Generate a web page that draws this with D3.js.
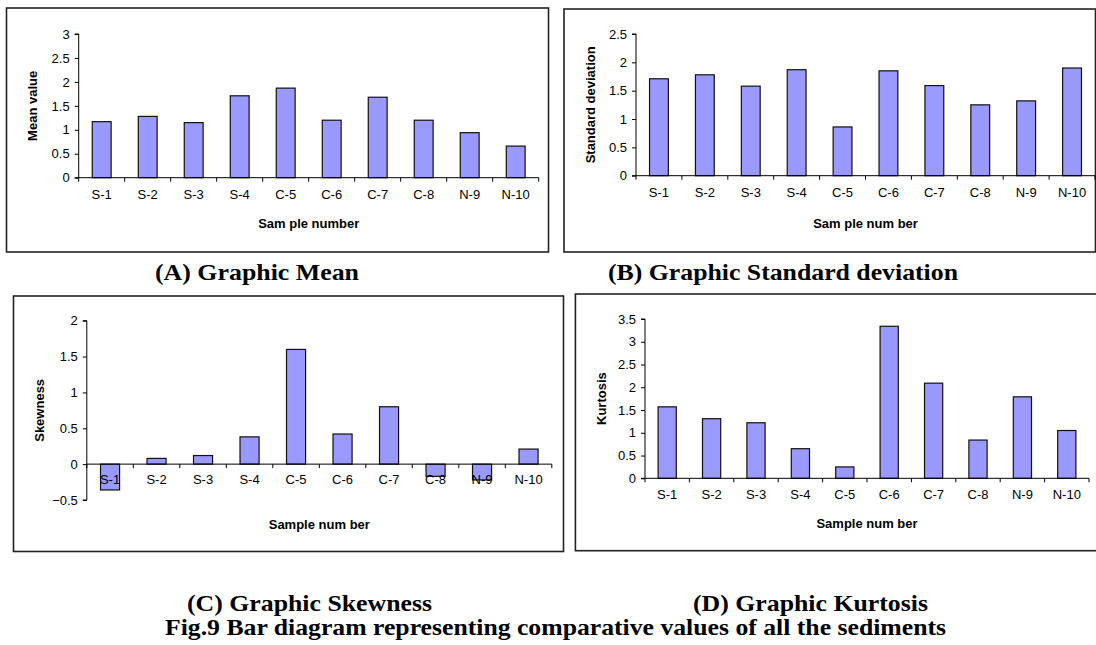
<!DOCTYPE html>
<html><head><meta charset="utf-8">
<script src="https://cdn.jsdelivr.net/npm/d3@7"></script>
<style>
html,body{margin:0;padding:0;background:#fff;}
svg{display:block;}
</style></head>
<body>
<svg id="chart" width="1096" height="645"></svg>
<script>
const categories = ["S-1","S-2","S-3","S-4","C-5","C-6","C-7","C-8","N-9","N-10"];
const meanValues = [1.17, 1.28, 1.15, 1.71, 1.87, 1.2, 1.68, 1.2, 0.94, 0.66];
const sdValues = [1.71, 1.78, 1.58, 1.87, 0.86, 1.85, 1.59, 1.25, 1.32, 1.9];
const skewValues = [-0.36, 0.08, 0.12, 0.38, 1.6, 0.42, 0.8, -0.17, -0.22, 0.21];
const kurtValues = [1.57, 1.31, 1.22, 0.65, 0.25, 3.34, 2.09, 0.84, 1.79, 1.05];
const meanTicks = [0, 0.5, 1, 1.5, 2, 2.5, 3];
const sdTicks = [0, 0.5, 1, 1.5, 2, 2.5];
const skewTicks = [-0.5, 0, 0.5, 1, 1.5, 2];
const kurtTicks = [0, 0.5, 1, 1.5, 2, 2.5, 3, 3.5];
const yTitles = ["Mean value", "Standard deviation", "Skewness", "Kurtosis"];
const xTitles = ["Sam ple number", "Sam ple num ber", "Sample num ber", "Sample num ber"];
const captions = ["(A) Graphic Mean", "(B) Graphic Standard deviation", "(C) Graphic Skewness", "(D) Graphic Kurtosis"];
const figCaption = "Fig.9 Bar diagram representing comparative values of all the sediments";

const svg = d3.select("#chart");
const SANS = "Arial, 'Liberation Sans', sans-serif";
const SERIF = "'Times New Roman', 'Liberation Serif', serif";

const panels = [
  {vals: meanValues, ticks: meanTicks, domain:[0,3], box:[6.5,8,548.5,252], px:[78.7,538.7], py:[177.7,34], ytx:32, lblDy:21, titleY:228, yt: yTitles[0], xt: xTitles[0]},
  {vals: sdValues, ticks: sdTicks, domain:[0,2.5], box:[564,9,1095.5,252], px:[636,1095], py:[175.7,34], ytx:590, lblDy:21, titleY:228, yt: yTitles[1], xt: xTitles[1]},
  {vals: skewValues, ticks: skewTicks, domain:[-0.5,2], box:[13.5,296,563.5,551.5], px:[86.8,551.8], py:[500,320.7], ytx:39, lblDy:20, titleY:529, yt: yTitles[2], xt: xTitles[2]},
  {vals: kurtValues, ticks: kurtTicks, domain:[0,3.5], box:[575.4,294,1098,550.7], px:[645,1089], py:[478.3,319], ytx:601, lblDy:20, titleY:528, yt: yTitles[3], xt: xTitles[3]}
];

panels.forEach(p => {
  const g = svg.append("g");
  const [bx0,by0,bx1,by1] = p.box;
  g.append("rect").attr("x",bx0).attr("y",by0).attr("width",bx1-bx0).attr("height",by1-by0)
    .attr("fill","#fff").attr("stroke","#222").attr("stroke-width",1.6);

  const x = d3.scaleBand().domain(categories).range(p.px).paddingInner(0).paddingOuter(0);
  const y = d3.scaleLinear().domain(p.domain).range(p.py);
  const y0 = y(0);
  const bw = x.bandwidth()*0.41;

  g.selectAll("rect.bar").data(p.vals).enter().append("rect")
    .attr("class","bar")
    .attr("x",(d,i)=> x(categories[i]) + x.bandwidth()/2 - bw/2)
    .attr("y", d => Math.min(y(d), y0))
    .attr("width", bw)
    .attr("height", d => Math.abs(y(d)-y0))
    .attr("fill","#9999ff").attr("stroke","#111").attr("stroke-width",1.2);

  const yAxis = d3.axisLeft(y).tickValues(p.ticks).tickSize(4).tickPadding(5)
    .tickFormat(d => d3.format("")(d));
  const ya = g.append("g").attr("transform",`translate(${p.px[0]},0)`).call(yAxis);
  ya.select(".domain").attr("stroke","#000").attr("d", `M-4,${p.py[0]}H0V${p.py[1]}H-4`);
  ya.selectAll(".tick line").attr("stroke","#000");
  ya.selectAll("text").attr("font-family",SANS).attr("font-size",13).attr("fill","#000");

  const xAxis = d3.axisBottom(x).tickSize(0).tickPadding(p.lblDy-9);
  const xa = g.append("g").attr("transform",`translate(0,${y0})`).call(xAxis);
  xa.select(".domain").attr("stroke","#000").attr("d", `M${p.px[0]},0H${p.px[1]}`);
  xa.selectAll("text").attr("font-family",SANS).attr("font-size",13).attr("fill","#000");
  const bounds = categories.map(c => x(c)).concat([p.px[1]]);
  xa.selectAll("line.bt").data(bounds).enter().append("line").attr("class","bt")
    .attr("x1",d=>d).attr("x2",d=>d).attr("y1",0).attr("y2",4).attr("stroke","#000");

  g.append("text").attr("x",(p.px[0]+p.px[1])/2).attr("y",p.titleY)
    .attr("text-anchor","middle").attr("font-family",SANS).attr("font-weight","bold").attr("font-size",13)
    .text(p.xt);
  const cy = (p.py[0]+p.py[1])/2;
  g.append("text").attr("transform",`translate(${p.ytx},${cy}) rotate(-90)`)
    .attr("text-anchor","middle").attr("dy","0.35em").attr("font-family",SANS).attr("font-weight","bold").attr("font-size",13)
    .text(p.yt);
});

// caption spans [left, right, baseline]
const capSpans = [[155,359,280],[608,958,280],[187,432,611],[693,928,611]];
captions.forEach((c,i)=>{
  const [l,r,b] = capSpans[i];
  svg.append("text").attr("x",l).attr("y",b)
    .attr("font-family",SERIF).attr("font-weight","bold").attr("font-size",24)
    .attr("textLength",r-l).attr("lengthAdjust","spacingAndGlyphs").text(c);
});
svg.append("text").attr("x",165).attr("y",635)
  .attr("font-family",SERIF).attr("font-weight","bold").attr("font-size",24)
  .attr("textLength",781).attr("lengthAdjust","spacingAndGlyphs").text(figCaption);
</script>
</body></html>
